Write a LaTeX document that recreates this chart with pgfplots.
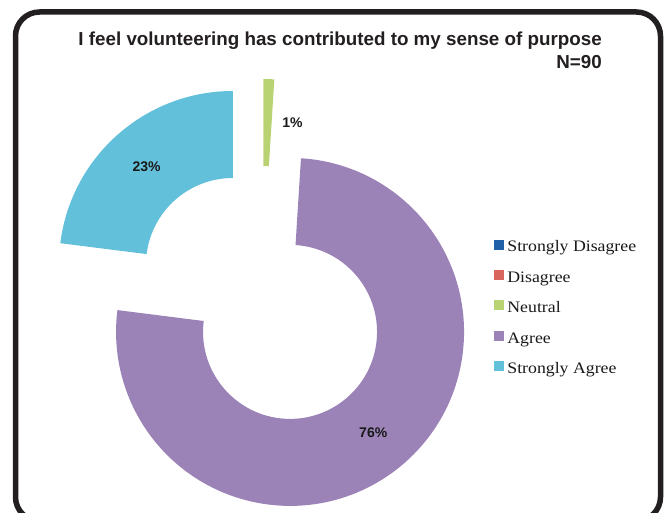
\documentclass[border=0pt]{standalone}
\usepackage{pgfplots}
\pgfplotsset{compat=1.18}
\usepackage{fontspec}
\setmainfont{Liberation Sans}
\newfontfamily\legfont[FakeStretch=1.11]{Liberation Serif}

\definecolor{framecol}{RGB}{35,31,32}
\definecolor{sdis}{RGB}{31,96,168}
\definecolor{dis}{RGB}{217,102,94}
\definecolor{neu}{RGB}{185,211,115}
\definecolor{agr}{RGB}{155,131,183}
\definecolor{sagr}{RGB}{99,192,218}
\newcommand\lblfont{\fontsize{14}{16}\selectfont\bfseries}

% one ring slice: value (percent), colour, explosion, label shift x, label shift y
\def\cum{0}
\newcommand\slice[5]{%
  \ifdim #1pt>0pt
    \pgfmathsetmacro\sa{90-3.6*\cum}%
    \pgfmathsetmacro\sb{90-3.6*(\cum+#1)}%
    \pgfmathsetmacro\sm{(\sa+\sb)/2}%
    \pgfmathsetmacro\cx{262+#3*cos(\sm)}%
    \pgfmathsetmacro\cy{214+#3*sin(\sm)}%
    \pgfmathsetmacro\lx{\cx+130.5*cos(\sm)+#4}%
    \pgfmathsetmacro\ly{\cy+130.5*sin(\sm)+#5}%
    \edef\tmp{%
      \noexpand\fill[#2, shift={(axis cs:\cx,\cy)}] (\sa:174pt)
        arc[start angle=\sa, end angle=\sb, radius=174pt] -- (\sb:87pt)
        arc[start angle=\sb, end angle=\sa, radius=87pt] -- cycle;
      \noexpand\node[font=\noexpand\lblfont, text=black!90] at (axis cs:\lx,\ly) {#1\noexpand\%};
    }\tmp
  \fi
  \pgfmathsetmacro\cum{\cum+#1}%
}

\begin{document}
\begin{tikzpicture}
\begin{axis}[
  at={(0,0)}, anchor=south west,
  x=1pt, y=1pt, xmin=0, xmax=664, ymin=0, ymax=512,
  hide axis, clip=false,
  legend style={at={(0.7440,0.5322)}, anchor=north west, draw=none, fill=none,
    inner sep=0pt, outer sep=0pt, font=\legfont\fontsize{16}{19}\selectfont,
    row sep=14pt, column sep=0pt,
    nodes={inner sep=0pt, text height=11pt, text depth=4pt, text=black!90}},
  legend cell align=left,
  legend image code/.code={\fill[#1] (0pt,-0.3pt) rectangle (9pt,8.7pt); \path (13pt,0pt);},
]
\draw[line width=5.5pt, rounded corners=24pt, framecol] (axis cs:15.5,-9) rectangle (axis cs:660.5,500);

\slice{0}{sdis}{44}{0}{0}
\slice{0}{dis}{44}{0}{0}
\slice{1}{neu}{45}{25}{0}
\slice{76}{agr}{44}{0}{0}
\slice{23}{sagr}{44}{0}{0}

\node[anchor=base east, font=\fontsize{18.8}{22}\selectfont\bfseries, text=framecol, inner sep=0pt]
  at (axis cs:602,466) {I feel volunteering has contributed to my sense of purpose};
\node[anchor=base east, font=\fontsize{18.8}{22}\selectfont\bfseries, text=framecol, inner sep=0pt]
  at (axis cs:602,443) {N=90};

\addlegendimage{sdis}
\addlegendimage{dis}
\addlegendimage{neu}
\addlegendimage{agr}
\addlegendimage{sagr}
\legend{Strongly Disagree, Disagree, Neutral, Agree, Strongly Agree}
\end{axis}
\pgfresetboundingbox
\path[use as bounding box] (0,0) rectangle (664pt,512pt);
\end{tikzpicture}
\end{document}
